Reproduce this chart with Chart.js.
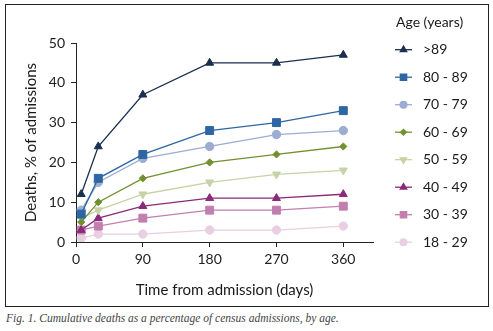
<!DOCTYPE html>
<html>
<head>
<meta charset="utf-8">
<script src="https://cdn.jsdelivr.net/npm/chart.js@4.4.0/dist/chart.umd.min.js"></script>
<style>
  body { margin: 0; background: #fff; width: 493px; height: 331px; position: relative; overflow: hidden; }
  #frame { position: absolute; left: 5px; top: 4px; width: 482px; height: 301px; border: 1px solid #222; }
  #frame canvas { position: absolute; left: 0; top: 0; }
  #cap { position: absolute; left: 6px; top: 312px; font: italic 11.5px "Liberation Serif", serif; color: #444; white-space: nowrap; }
</style>
</head>
<body>
<div id="frame"><canvas id="c" width="482" height="301"></canvas></div>
<div id="cap">Fig. 1. Cumulative deaths as a percentage of census admissions, by age.</div>
<script>
// days since admission
const days = [7, 30, 90, 180, 270, 360]
const xTicks = [0, 90, 180, 270, 360]
const ageGroups = ['>89', '80 - 89', '70 - 79', '60 - 69', '50 - 59', '40 - 49', '30 - 39', '18 - 29']

const over89 = [12, 24, 37, 45, 45, 47]
const age80s = [7, 16, 22, 28, 30, 33]
const age70s = [8, 15, 21, 24, 27, 28]
const age60s = [5, 10, 16, 20, 22, 24]
const age50s = [6, 8, 12, 15, 17, 18]
const age40s = [3, 6, 9, 11, 11, 12]
const age30s = [3, 4, 6, 8, 8, 9]
const age18to29 = [1, 2, 2, 3, 3, 4]

const series = [over89, age80s, age70s, age60s, age50s, age40s, age30s, age18to29]
const colors = ['#1b2f4f', '#2e66a3', '#9cacd2', '#72902f', '#c5d3a6', '#8b2a7a', '#c27fae', '#e8cfe2']
const markers = ['triangle', 'rect', 'circle', 'rectRot', 'triangle', 'triangle', 'rect', 'circle']
const rotations = [0, 0, 0, 0, 180, 0, 0, 0]
const sizes = [4.6, 5.6, 4.2, 3.6, 4.6, 4.6, 5.6, 4.2]

const FONT = 'Lato'

const datasets = series.map((vals, i) => ({
    label: ageGroups[i],
    data: vals.map((v, j) => ({ x: days[j], y: v })),
    borderColor: colors[i],
    backgroundColor: colors[i],
    pointBackgroundColor: colors[i],
    pointBorderColor: colors[i],
    borderWidth: 1.3,
    pointStyle: markers[i],
    pointRotation: rotations[i],
    pointRadius: sizes[i],
    pointBorderWidth: 1
}))

// legend drawn on the right, line + marker like the original
const sideLegend = {
    id: 'sideLegend',
    afterDraw(chart) {
        const ctx = chart.ctx
        ctx.save()
        ctx.font = '14px ' + FONT
        ctx.fillStyle = '#1a1a1a'
        ctx.textBaseline = 'middle'
        ctx.fillText('Age (years)', 390, 17)
        chart.data.datasets.forEach((ds, i) => {
            const y = 44.7 + 27.5 * i
            ctx.strokeStyle = ds.borderColor
            ctx.lineWidth = 1.3
            ctx.beginPath()
            ctx.moveTo(389, y)
            ctx.lineTo(406, y)
            ctx.stroke()
            ctx.fillStyle = ds.pointBackgroundColor
            Chart.helpers.drawPoint(ctx, {
                pointStyle: ds.pointStyle, rotation: ds.pointRotation,
                radius: ds.pointRadius * 0.8, borderWidth: 1
            }, 397.5, y)
            ctx.fillStyle = '#1a1a1a'
            ctx.fillText(ds.label, 417, y)
        })
        ctx.restore()
    }
}

new Chart(document.getElementById('c'), {
    type: 'line',
    data: { datasets },
    plugins: [sideLegend],
    options: {
        responsive: false,
        animation: false,
        layout: { padding: { left: 0, top: 38, right: 115, bottom: 0 } },
        plugins: { legend: { display: false }, tooltip: { enabled: false } },
        scales: {
            x: {
                type: 'linear', min: 0, max: 400,
                afterBuildTicks: axis => { axis.ticks = xTicks.map(v => ({ value: v })) },
                afterFit: axis => { axis.height = 64 },
                grid: { drawOnChartArea: false, tickLength: 5, color: '#222' },
                border: { color: '#222', width: 1 },
                ticks: { color: '#222', font: { family: FONT, size: 14 }, padding: 4, maxRotation: 0 },
                title: { display: true, text: 'Time from admission (days)', color: '#1a1a1a',
                    font: { family: FONT, size: 15 }, padding: { top: 0, bottom: 7 } }
            },
            y: {
                min: 0, max: 50,
                ticks: { stepSize: 10, color: '#222', font: { family: FONT, size: 14 }, padding: 6 },
                afterFit: axis => { axis.width = 70 },
                grid: { drawOnChartArea: false, tickLength: 5, color: '#222' },
                border: { color: '#222', width: 1 },
                title: { display: true, text: 'Deaths, % of admissions', color: '#1a1a1a',
                    font: { family: FONT, size: 15 }, padding: { top: 16, bottom: 0 } }
            }
        }
    }
})
</script>
</body>
</html>
